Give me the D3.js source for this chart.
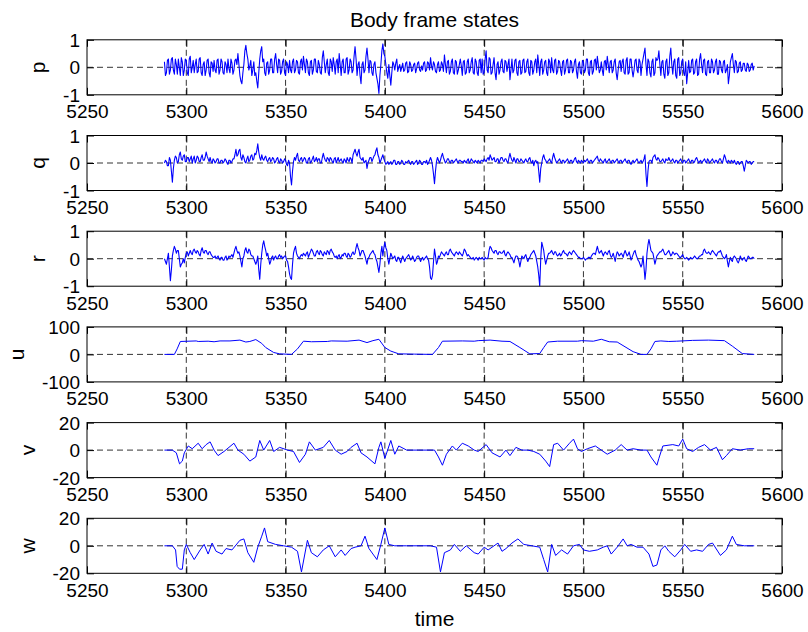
<!DOCTYPE html>
<html><head><meta charset="utf-8">
<script src="https://cdn.jsdelivr.net/npm/d3@7"></script>
<style>
body{margin:0;background:#fff}
svg text{font-family:"Liberation Sans",Arial,Helvetica,sans-serif;fill:#000}
</style>
</head><body>
<svg id="chart" width="808" height="632"></svg>
<script>
// ---------- data ----------
const titleText = "Body frame states";
const xLabelText = "time";
const xTicks = [5250, 5300, 5350, 5400, 5450, 5500, 5550, 5600];
const rateStart = 5289; // p, q, r: whole-second samples from here, plus half-second samples in *Mid

const pVals = [
 0.2,-0.2,0.3,-0.1,0.35,-0.25,0.1,0.3,-0.3,0.2,
 -0.1,0.25,-0.3,0.4,0.0,-0.2,0.3,-0.15,0.35,-0.3,
 0.2,-0.1,0.3,-0.35,0.15,0.25,-0.2,0.3,-0.1,0.2,
 -0.25,0.1,0.3,-0.2,0.15,-0.1,0.3,0.5,-0.3,-0.6,
 0.1,0.8,0.3,0.05,-0.3,0.2,-0.2,-0.75,0.3,0.75,
 0.3,-0.3,0.2,-0.1,0.3,-0.2,0.5,-0.2,0.25,-0.15,
 0.3,-0.3,0.1,0.25,-0.2,0.3,-0.1,0.2,-0.25,0.3,
 0.4,-0.2,0.2,-0.3,0.25,-0.1,0.3,-0.2,0.1,-0.25,
 0.6,-0.2,0.3,-0.3,0.2,0.35,-0.25,0.3,0.5,-0.3,
 0.3,-0.2,0.35,-0.1,0.2,-0.1,0.75,-0.3,0.2,-0.6,
 0.2,-0.1,0.7,-0.2,0.2,-0.3,0.2,-0.4,-0.95,0.1,
 0.85,0.4,-0.2,0.1,-0.65,0.2,-0.1,0.3,0.0,-0.15,
 0.15,-0.1,0.2,-0.15,0.1,-0.1,0.15,-0.05,0.2,-0.15,
 -0.1,0.2,-0.1,0.15,0.35,-0.1,0.1,-0.2,0.2,-0.1,
 0.1,0.45,-0.2,0.25,-0.15,0.3,-0.25,0.2,-0.1,0.3,
 -0.3,0.25,-0.2,0.3,-0.1,0.35,-0.25,0.2,-0.3,0.3,
 0.3,-0.2,0.6,-0.2,0.3,-0.2,0.35,-0.45,0.2,-0.1,
 0.3,-0.2,0.2,0.1,-0.45,0.3,-0.1,0.3,-0.3,0.25,
 -0.2,0.3,-0.15,0.3,-0.3,0.2,-0.1,0.3,0.45,-0.3,
 0.3,-0.1,0.25,-0.3,0.2,0.35,-0.2,0.3,-0.15,0.2,
 -0.3,0.25,-0.1,0.3,-0.2,0.2,-0.1,0.3,-0.4,0.2,
 -0.25,0.2,-0.1,0.3,-0.3,0.25,-0.15,0.3,0.4,-0.2,
 0.2,-0.3,0.25,0.4,-0.2,0.25,-0.1,0.3,-0.45,0.2,
 -0.15,0.3,-0.25,0.35,-0.2,0.3,-0.35,0.25,-0.1,0.3,
 -0.3,0.3,0.7,-0.3,0.2,-0.35,0.3,-0.2,0.25,0.6,
 -0.3,0.25,-0.4,0.3,-0.2,0.7,-0.25,0.3,-0.4,0.35,
 -0.2,0.3,-0.3,-0.6,0.25,-0.15,0.3,-0.2,0.3,-0.25,
 0.5,-0.2,0.3,-0.3,0.25,-0.2,0.2,-0.1,0.3,-0.25,
 0.2,-0.2,0.25,-0.1,-0.6,0.2,0.5,-0.2,0.2,-0.15,
 0.2,-0.1,0.15,-0.15,0.1,-0.1,0.15,0.05
];
const pMid = [
 -0.3,0.25,-0.25,0.3,-0.1,0.3,-0.25,0.0,0.35,-0.3,
 0.3,-0.2,0.3,-0.2,0.25,0.1,-0.2,0.3,-0.2,0.1,
 -0.3,0.25,-0.2,0.2,-0.15,-0.1,0.25,-0.25,0.3,-0.2,
 0.2,-0.2,-0.05,0.3,-0.25,0.25,0.1,0.1,-0.5,-0.2,
 0.6,0.5,-0.1,0.25,-0.1,-0.3,-0.5,-0.2,0.6,0.2,
 -0.2,0.15,-0.25,0.3,-0.2,0.3,0.1,0.3,-0.25,0.2,
 -0.2,0.2,-0.2,-0.1,0.2,-0.2,0.25,-0.2,0.2,-0.1,
 0.1,0.3,-0.2,0.2,-0.25,0.3,-0.15,0.25,-0.2,0.35,
 0.2,0.1,-0.2,0.3,-0.15,0.1,0.2,-0.2,0.1,0.2,
 -0.2,0.3,-0.25,0.3,-0.2,0.4,0.3,0.1,-0.3,0.1,
 -0.2,0.4,0.3,0.25,-0.2,0.1,-0.2,-0.6,-0.3,0.6,
 0.5,0.1,-0.4,-0.3,-0.2,0.1,0.15,-0.15,0.1,0.0,
 -0.15,0.15,-0.2,0.2,-0.15,0.1,-0.2,0.15,-0.1,0.05,
 0.15,-0.15,0.2,-0.1,0.05,0.2,-0.15,0.1,-0.15,0.2,
 -0.15,0.1,0.2,-0.25,0.2,-0.2,0.25,-0.25,0.1,0.05,
 0.2,-0.25,0.2,-0.2,0.2,-0.2,0.3,-0.2,0.25,-0.2,
 -0.25,0.3,-0.1,0.35,-0.25,0.1,-0.2,0.1,-0.25,0.2,
 -0.15,0.25,-0.15,0.3,-0.1,-0.2,0.25,-0.2,0.2,-0.25,
 0.25,-0.2,0.2,-0.2,0.25,-0.25,0.2,-0.2,0.1,0.2,
 -0.25,0.2,-0.2,0.3,-0.2,-0.1,0.25,-0.25,0.25,-0.1,
 0.2,-0.25,0.25,-0.2,0.25,-0.2,0.2,-0.15,0.1,-0.2,
 0.25,-0.2,0.3,-0.2,0.2,-0.25,0.25,-0.1,0.1,-0.1,
 -0.1,0.2,-0.1,0.1,0.2,-0.2,0.2,-0.2,-0.1,0.25,
 0.2,-0.2,0.25,-0.25,0.3,-0.1,-0.1,0.3,-0.2,0.2,
 0.1,0.5,0.1,0.3,-0.2,0.2,-0.3,0.35,0.3,0.1,
 0.2,-0.25,0.2,-0.3,0.4,0.1,0.2,-0.3,0.3,-0.3,
 0.2,-0.2,0.2,-0.2,-0.2,0.25,-0.25,0.2,-0.3,0.3,
 0.1,0.25,-0.25,0.2,-0.2,0.3,-0.2,0.2,-0.25,0.25,
 -0.1,0.2,-0.2,0.1,-0.3,0.35,0.1,0.25,-0.2,0.15,
 -0.15,0.15,-0.1,0.15,-0.15,0.1,-0.1
];

const qVals = [
 0.0,0.05,-0.1,0.1,-0.7,0.1,0.2,0.05,0.4,0.1,
 0.3,0.05,0.2,0.15,0.0,0.25,0.1,0.2,0.05,0.3,
 0.1,0.4,0.15,0.2,0.0,0.1,0.05,0.15,0.0,0.1,
 0.05,0.1,-0.05,0.1,0.05,0.15,0.5,0.3,0.5,0.1,
 0.2,0.0,0.25,0.1,0.3,0.15,0.3,0.7,0.2,0.3,
 0.1,0.25,0.05,0.2,0.1,0.15,0.05,0.2,0.0,0.1,
 0.05,0.1,-0.1,0.0,-0.8,0.05,0.1,0.35,0.05,0.2,
 0.1,0.15,0.0,0.2,0.05,0.25,0.1,0.05,0.15,0.0,
 0.35,0.1,0.2,0.05,0.15,0.0,0.2,0.1,0.05,0.15,
 0.0,0.1,0.2,0.05,0.15,0.3,0.5,0.25,0.5,0.15,
 0.2,0.05,-0.2,0.1,0.2,0.15,0.3,0.55,0.2,0.1,
 0.3,0.05,0.0,-0.05,0.05,0.0,0.1,-0.05,0.05,0.0,
 0.05,-0.05,0.0,0.1,-0.05,0.05,0.0,0.1,0.0,0.05,
 -0.05,0.05,0.1,0.0,0.2,-0.1,-0.75,0.05,0.1,0.1,
 0.35,0.1,0.05,0.15,0.0,0.1,0.05,0.15,0.0,0.1,
 0.05,0.1,0.0,0.15,0.05,0.1,0.0,0.05,0.1,0.0,
 0.1,0.15,0.05,0.2,0.3,0.1,0.2,0.05,0.15,0.1,
 0.2,0.05,0.15,0.0,0.35,0.1,0.2,0.0,0.15,0.05,
 0.1,0.0,0.15,0.05,0.2,0.0,-0.1,0.1,0.05,-0.7,
 0.0,0.3,0.1,0.05,0.15,0.0,0.35,0.1,0.05,0.15,
 0.0,0.1,0.05,0.15,0.0,0.1,0.05,0.2,0.0,0.05,
 0.1,0.0,0.05,0.15,0.0,0.1,0.05,0.15,0.25,0.05,
 0.1,0.0,0.15,0.05,0.15,0.0,0.1,0.05,0.15,0.0,
 0.1,0.05,0.15,0.0,0.1,-0.05,0.1,0.05,0.15,0.0,
 0.1,0.05,0.3,-0.85,0.05,0.1,0.2,0.3,0.1,0.15,
 0.05,0.15,0.0,0.1,0.2,0.05,0.15,0.0,0.1,0.05,
 0.15,0.0,0.1,0.05,0.15,0.0,0.1,0.05,0.2,0.0,
 0.1,0.05,0.15,0.0,0.1,0.05,0.15,0.0,0.1,0.05,
 0.15,0.0,0.3,0.05,0.1,0.0,0.05,0.1,-0.05,0.05,
 0.0,0.05,-0.3,0.1,0.0,0.05,0.0,0.05
];
const qMid = [
 0.1,-0.1,0.2,-0.3,-0.2,0.25,0.0,0.3,0.15,0.25,
 0.05,0.2,0.05,0.25,0.15,0.0,0.25,0.05,0.2,0.1,
 0.2,0.25,0.05,0.05,0.15,0.0,0.15,0.0,0.1,0.0,
 0.15,0.0,0.1,0.0,0.15,0.3,0.25,0.45,0.2,0.3,
 0.05,0.15,0.05,0.25,0.1,0.35,0.45,0.4,0.1,0.15,
 0.2,0.1,0.15,0.05,0.2,0.0,0.15,0.05,0.15,0.0,
 0.15,-0.05,0.1,-0.5,-0.3,0.2,0.25,0.1,0.15,0.05,
 0.2,0.0,0.15,0.0,0.15,0.05,0.2,0.15,0.0,0.2,
 0.2,0.05,0.15,0.2,0.05,0.15,0.0,0.2,0.1,0.05,
 0.15,0.0,0.1,0.2,0.0,0.4,0.35,0.4,0.2,0.1,
 0.0,0.1,0.0,0.2,0.05,0.25,0.45,0.3,0.0,0.2,
 0.15,-0.05,0.05,0.0,-0.05,0.1,-0.05,0.05,-0.05,0.1,
 -0.05,0.05,0.05,0.0,0.05,-0.05,0.05,-0.05,0.1,-0.05,
 0.05,0.0,-0.05,0.1,0.1,-0.4,-0.3,0.2,0.0,0.25,
 0.2,0.0,0.15,0.05,0.1,0.0,0.1,0.05,0.1,0.05,
 0.0,0.05,0.1,0.0,0.15,0.05,0.1,0.0,0.05,0.1,
 0.05,0.1,0.15,0.1,0.2,0.15,0.05,0.15,0.0,0.2,
 0.1,0.15,0.05,0.2,0.2,0.05,0.1,0.15,0.05,0.15,
 0.05,0.1,0.05,0.15,0.05,0.1,0.05,0.0,-0.3,-0.2,
 0.2,0.15,0.0,0.1,0.05,0.2,0.2,0.0,0.1,0.05,
 0.1,0.0,0.1,0.05,0.1,0.0,0.15,0.05,0.1,0.0,
 0.05,0.1,0.1,0.05,0.1,0.0,0.1,0.2,0.1,0.15,
 0.05,0.1,0.0,0.1,0.05,0.1,0.0,0.1,0.05,0.1,
 0.0,0.1,0.05,0.1,0.0,0.05,0.0,0.1,0.05,0.05,
 0.0,0.15,-0.4,-0.3,0.1,0.0,0.25,0.15,0.2,0.05,
 0.1,0.05,0.15,0.1,0.1,0.1,0.05,0.1,0.0,0.1,
 0.05,0.1,0.0,0.1,0.05,0.1,0.0,0.15,0.1,0.05,
 0.0,0.1,0.05,0.15,0.0,0.1,0.05,0.1,0.0,0.15,
 0.05,0.15,0.2,0.0,0.05,0.1,0.0,0.0,0.05,-0.05,
 0.05,-0.1,-0.1,0.05,0.05,-0.05,0.05
];

const rVals = [
 0.0,-0.2,0.2,-0.8,0.1,0.45,0.2,0.3,-0.3,-0.15,
 -0.15,0.2,0.1,0.3,0.15,0.35,0.2,0.25,0.1,0.4,
 0.2,0.3,0.15,0.25,0.1,0.05,0.0,0.1,-0.05,0.05,
 -0.05,0.1,0.0,0.05,0.15,0.2,0.45,0.2,0.1,-0.3,
 0.1,0.4,0.2,0.3,0.1,0.0,-0.2,0.1,-0.75,0.2,
 0.65,0.3,0.2,-0.2,0.05,-0.05,0.1,0.0,0.15,0.1,
 0.05,0.1,-0.1,-0.55,-0.75,0.2,0.45,0.1,0.0,0.15,
 0.2,0.1,0.25,0.15,0.35,0.2,0.1,0.3,0.15,0.25,
 0.1,0.2,0.3,0.15,0.35,0.2,0.05,0.0,0.15,0.05,
 0.1,0.2,0.05,0.15,0.1,0.25,0.2,0.55,0.3,0.2,
 0.3,0.1,-0.2,0.05,0.2,0.3,0.15,-0.1,-0.5,0.2,
 0.1,0.6,0.3,-0.2,0.2,0.0,0.1,-0.1,0.05,-0.15,
 0.1,-0.1,0.05,0.15,-0.05,0.1,-0.1,0.05,0.1,-0.1,
 0.05,0.0,0.1,-0.05,-0.7,-0.6,0.35,-0.2,0.1,0.15,
 0.2,0.1,0.25,0.15,0.35,0.2,0.1,0.25,0.15,0.2,
 0.1,0.35,0.2,0.15,0.05,0.0,-0.05,0.05,-0.05,0.0,
 0.05,-0.05,0.0,0.05,0.45,0.3,0.2,0.3,0.15,0.25,
 0.2,0.3,0.1,0.25,0.15,0.05,-0.15,0.1,0.05,-0.3,
 0.1,0.0,0.15,-0.1,0.05,0.2,0.3,0.1,-0.3,-1.0,
 0.6,0.3,-0.2,0.1,0.2,0.3,0.15,0.25,0.1,0.2,
 0.15,0.3,0.2,0.1,0.25,0.15,0.3,0.2,0.1,0.05,
 0.0,0.05,-0.05,0.0,0.05,0.1,0.2,0.15,0.45,0.2,
 0.3,0.1,0.25,0.15,0.3,0.05,0.2,-0.1,0.25,0.1,
 0.2,0.05,0.3,0.1,0.25,-0.05,0.15,0.3,0.05,-0.1,
 -0.3,0.1,-0.75,0.2,0.7,0.3,0.2,-0.2,0.1,0.2,
 0.25,0.35,0.15,0.2,0.3,0.1,0.25,0.15,0.2,0.1,
 0.05,0.15,0.0,0.05,-0.05,0.05,0.0,0.1,0.0,0.05,
 0.1,0.15,0.35,0.2,0.25,0.15,0.3,0.2,0.1,0.25,
 0.3,0.1,0.0,0.15,-0.3,0.05,-0.1,0.1,0.0,-0.15,
 0.1,-0.05,0.05,-0.1,0.1,0.0,0.05,0.0
];
const rMid = [
 -0.1,0.0,-0.3,-0.4,0.3,0.35,0.3,0.0,-0.2,0.0,
 0.05,0.25,0.2,0.2,0.3,0.25,0.3,0.15,0.3,0.25,
 0.3,0.2,0.25,0.15,0.05,0.1,0.05,0.0,0.05,-0.05,
 0.05,-0.05,0.1,0.1,0.05,0.35,0.3,0.25,-0.1,0.0,
 0.3,0.25,0.35,0.15,0.1,-0.1,-0.1,-0.4,-0.2,0.5,
 0.45,0.1,0.0,-0.1,0.1,0.05,0.0,0.1,0.05,0.0,
 0.1,-0.05,-0.3,-0.7,-0.2,0.35,0.2,0.05,0.1,0.1,
 0.15,0.2,0.05,0.25,0.3,0.1,0.25,0.2,0.3,0.15,
 0.25,0.15,0.25,0.3,0.25,0.1,0.1,0.1,0.0,0.15,
 0.2,0.1,0.2,0.05,0.2,0.15,0.4,0.4,0.1,0.3,
 0.2,-0.05,0.0,0.15,0.25,0.2,0.0,-0.3,-0.2,0.45,
 0.4,0.4,0.0,0.0,0.1,0.05,-0.05,0.05,-0.05,0.0,
 0.0,0.0,0.1,0.05,0.0,0.0,-0.05,0.1,0.0,0.0,
 -0.05,0.05,0.0,-0.3,-0.75,-0.1,0.1,-0.1,0.05,0.25,
 0.15,0.2,0.15,0.3,0.25,0.15,0.2,0.2,0.25,0.15,
 0.2,0.3,0.1,0.1,0.0,0.05,0.0,0.0,0.05,0.0,
 0.0,0.05,0.0,0.3,0.4,0.25,0.3,0.2,0.25,0.2,
 0.25,0.15,0.2,0.2,0.05,-0.05,0.0,0.1,-0.1,-0.1,
 0.05,0.1,0.0,0.0,0.15,0.25,0.2,-0.1,-0.6,0.0,
 0.45,0.0,-0.05,0.2,0.25,0.2,0.25,0.15,0.15,0.1,
 0.25,0.2,0.15,0.2,0.2,0.25,0.25,0.15,0.05,0.0,
 0.0,0.0,0.0,0.05,0.0,0.15,0.2,0.3,0.3,0.25,
 0.2,0.2,0.2,0.25,0.15,0.1,0.05,0.1,0.2,0.15,
 0.15,0.2,0.2,0.15,0.1,0.05,0.25,0.15,-0.05,-0.2,
 -0.2,-0.3,-0.4,0.5,0.5,0.25,0.0,-0.05,0.15,0.25,
 0.3,0.25,0.15,0.25,0.2,0.15,0.2,0.2,0.15,0.05,
 0.1,0.05,0.0,0.0,0.0,0.0,0.05,0.05,0.0,0.1,
 0.15,0.3,0.25,0.2,0.2,0.25,0.25,0.15,0.2,0.25,
 0.2,0.05,0.05,-0.1,-0.1,-0.05,0.05,0.05,-0.1,-0.05,
 0.0,0.0,-0.05,0.0,0.05,0.0,0.05
];

const uTime = [5289,5294,5295.4,5297,5305,5306,5311,5314,5317,5322,
 5327,5330,5332,5335,5338,5340,5344,5347,5353,5356,
 5359,5363,5371,5373,5381,5387,5391,5394,5397,5400,
 5403,5407,5415,5424,5427,5429,5439,5445,5447,5453,
 5459,5463,5468,5473,5478,5480,5482,5487,5497,5499,
 5505,5509,5513,5517,5525,5529,5532,5534,5536,5539,
 5543,5547,5555,5563,5571,5575,5580,5586];
const uVals = [0,0,20,47,49,47,48,46,49,49,
 52,45,47,54,40,25,7,2,0,20,
 48,46,47,49,48,52,43,50,55,25,
 12,2,1,0,25,48,49,48,50,52,
 48,47,25,2,3,25,45,48,48,50,
 48,55,46,45,10,0,0,20,47,49,
 47,48,51,52,50,30,3,0];

const vTime = [5289,5293,5295,5296.6,5298,5299,5301,5303,5306,5308,
 5310,5312,5314,5316,5319,5324,5326,5329,5332,5335,
 5337,5339,5342,5344,5347,5351,5354,5357,5360,5362,
 5365,5369,5372,5375,5378,5381,5383,5386,5388,5391,
 5395,5397,5398,5400,5403,5405,5407,5411,5417,5425,
 5427,5429,5431,5434,5436,5439,5442,5445,5447,5451,
 5454,5458,5461,5463,5466,5469,5472,5475,5478,5481,
 5483,5485,5487,5490,5493,5495,5497,5499,5502,5506,
 5509,5512,5516,5519,5522,5525,5529,5532,5534,5537,
 5538,5540,5545,5548,5550,5552,5555,5558,5561,5564,
 5567,5570,5572,5575,5579,5583,5586];
const vVals = [0,0,-2,-10,-8,-2,3,1,5,1,
 4,6,0,-4,-1,5,0,-3,-8,-5,
 7,0,7,-1,2,0,-1,-9,-3,6,
 0,2,7,0,-3,-1,2,5,-2,-5,
 -10,2,6,-6,7,-3,3,0,0,0,
 -5,-11,-3,3,0,5,3,0,-1,4,
 -2,-5,0,-4,2,0,0,-1,-3,-8,
 -12,4,5,0,5,8,1,-1,1,3,
 0,-3,0,4,0,1,0,0,-5,-11,
 -6,3,4,3,8,1,-1,2,4,0,
 2,-7,-4,1,0,1,1];

const wTime = [5289,5293,5294.6,5295.4,5296.6,5298,5299,5300,5302,5304,
 5307,5309,5311,5313,5315,5318,5320,5323,5327,5329,
 5331,5334,5336,5338,5339.4,5341,5345,5349,5353,5356,
 5358,5361,5363,5366,5369,5372,5375,5378,5380,5383,
 5385,5388,5390,5392,5394,5396,5398,5400,5402,5405,
 5411,5423,5426,5428,5430,5433,5435,5438,5441,5445,
 5447,5450,5452,5457,5459,5461,5464,5467,5470,5474,
 5478,5480,5482,5484,5486,5489,5492,5495,5498,5500,
 5503,5507,5510,5512,5514,5517,5520,5522,5524,5527,
 5530,5533,5535,5537,5539,5541,5543,5546,5549,5551,
 5554,5557,5560,5563,5565,5569,5572,5575,5577,5581,5586];
const wVals = [0,0,-3,-15,-17,-17,-3,1,-5,-10,
 -3,1,-6,2,-4,-6,-2,-3,4,5,
 -5,-12,-1,7,13,3,1,0,-1,-4,
 -19,4,-5,-8,-3,0,-8,-3,-7,-2,
 -1,0,7,-2,-6,-10,1,13,1,0,
 0,0,-1,-19,-5,-3,1,-4,0,-5,
 -6,-1,-3,2,-4,-2,2,5,1,0,
 -1,-10,-19,1,-7,-3,-6,0,1,-3,
 -4,-3,-1,0,-6,-1,5,0,1,-1,
 -1,-6,-15,-14,-3,0,-4,-8,-3,1,
 -4,-3,-4,1,2,-7,-3,7,1,0,0];

const panelNames = ["p","q","r","u","v","w"];
const panelTicks = [[-1,0,1],[-1,0,1],[-1,0,1],[-100,0,100],[-20,0,20],[-20,0,20]];

// ---------- build series ----------
function rateSeries(vals, mids) {
  const out = [];
  vals.forEach((v, i) => {
    out.push([rateStart + i, v]);
    if (i < mids.length) out.push([rateStart + i + 0.5, mids[i]]);
  });
  return out;
}
const seriesList = [
  rateSeries(pVals, pMid),
  rateSeries(qVals, qMid),
  rateSeries(rVals, rMid),
  uTime.map((t,i)=>[t,uVals[i]]),
  vTime.map((t,i)=>[t,vVals[i]]),
  wTime.map((t,i)=>[t,wVals[i]])
];

// ---------- layout ----------
const svg = d3.select("#chart");
const left = 87, right = 782;
const panelTop0 = 39.8, panelStep = 95.7, panelH = 55;
const tickFont = 19, labelFont = 21;

const x = d3.scaleLinear().domain([xTicks[0], xTicks[xTicks.length-1]]).range([left, right]);

svg.append("text")
  .attr("x", (left+right)/2).attr("y", 27)
  .attr("text-anchor","middle").style("font-size", labelFont+"px")
  .text(titleText);

panelNames.forEach((name, k) => {
  const top = panelTop0 + k*panelStep;
  const bottom = top + panelH;
  const ticks = panelTicks[k];
  const y = d3.scaleLinear().domain([ticks[0], ticks[ticks.length-1]]).range([bottom, top]);
  const g = svg.append("g");

  const clipId = "clip"+k;
  svg.append("clipPath").attr("id", clipId).append("rect")
    .attr("x", left).attr("y", top).attr("width", right-left).attr("height", panelH);

  // grid
  const grid = g.append("g").attr("stroke","#000").attr("stroke-width",0.8).attr("stroke-dasharray","6,4").attr("fill","none");
  xTicks.slice(1,-1).forEach(v => grid.append("line")
    .attr("x1", x(v)).attr("x2", x(v)).attr("y1", top).attr("y2", bottom));
  ticks.slice(1,-1).forEach(v => grid.append("line")
    .attr("x1", left).attr("x2", right).attr("y1", y(v)).attr("y2", y(v)));

  // data
  const line = d3.line().x(d => x(d[0])).y(d => y(d[1]));
  g.append("path").datum(seriesList[k])
    .attr("clip-path", `url(#${clipId})`)
    .attr("fill","none").attr("stroke","#0000ff").attr("stroke-width", k < 3 ? 1.1 : 1)
    .attr("stroke-linejoin","round")
    .attr("d", line);

  // axes
  const ax = g.append("g").attr("transform", `translate(0,${bottom})`)
    .call(d3.axisBottom(x).tickValues(xTicks).tickSizeInner(-7).tickSizeOuter(0).tickPadding(10).tickFormat(d3.format("d")));
  const axT = g.append("g").attr("transform", `translate(0,${top})`)
    .call(d3.axisTop(x).tickValues(xTicks).tickSizeInner(-7).tickSizeOuter(0).tickFormat(""));
  const ay = g.append("g").attr("transform", `translate(${left},0)`)
    .call(d3.axisLeft(y).tickValues(ticks).tickSizeInner(-7).tickSizeOuter(0).tickPadding(7).tickFormat(d3.format("d")));
  const ayR = g.append("g").attr("transform", `translate(${right},0)`)
    .call(d3.axisRight(y).tickValues(ticks).tickSizeInner(-7).tickSizeOuter(0).tickFormat(""));
  [ax, axT, ay, ayR].forEach(a => {
    a.select(".domain").remove();
    a.selectAll("line").attr("stroke","#000").attr("stroke-width",1);
    a.selectAll("text").style("font-size", tickFont+"px").attr("fill","#000")
      .style("font-family",'"Liberation Sans",Arial,sans-serif');
    a.attr("font-family", null).attr("font-size", null);
  });
  ay.selectAll("text").attr("dy","0.35em").text(d => d < 0 ? "-" + Math.abs(d) : d);

  // box
  g.append("rect").attr("x", left).attr("y", top).attr("width", right-left).attr("height", panelH)
    .attr("fill","none").attr("stroke","#000").attr("stroke-width",1);

  // y label positioned left of tick labels
  let minX = left;
  ay.selectAll("text").each(function(){ const b = this.getBBox(); const m = this.getCTM(); minX = Math.min(minX, b.x + m.e); });
  svg.append("text")
    .attr("transform", `translate(${minX - 18},${(top+bottom)/2}) rotate(-90)`)
    .attr("text-anchor","middle").style("font-size", labelFont+"px")
    .text(name);
});

svg.append("text")
  .attr("x", (left+right)/2).attr("y", 626)
  .attr("text-anchor","middle").style("font-size", labelFont+"px")
  .text(xLabelText);
</script>
</body></html>
